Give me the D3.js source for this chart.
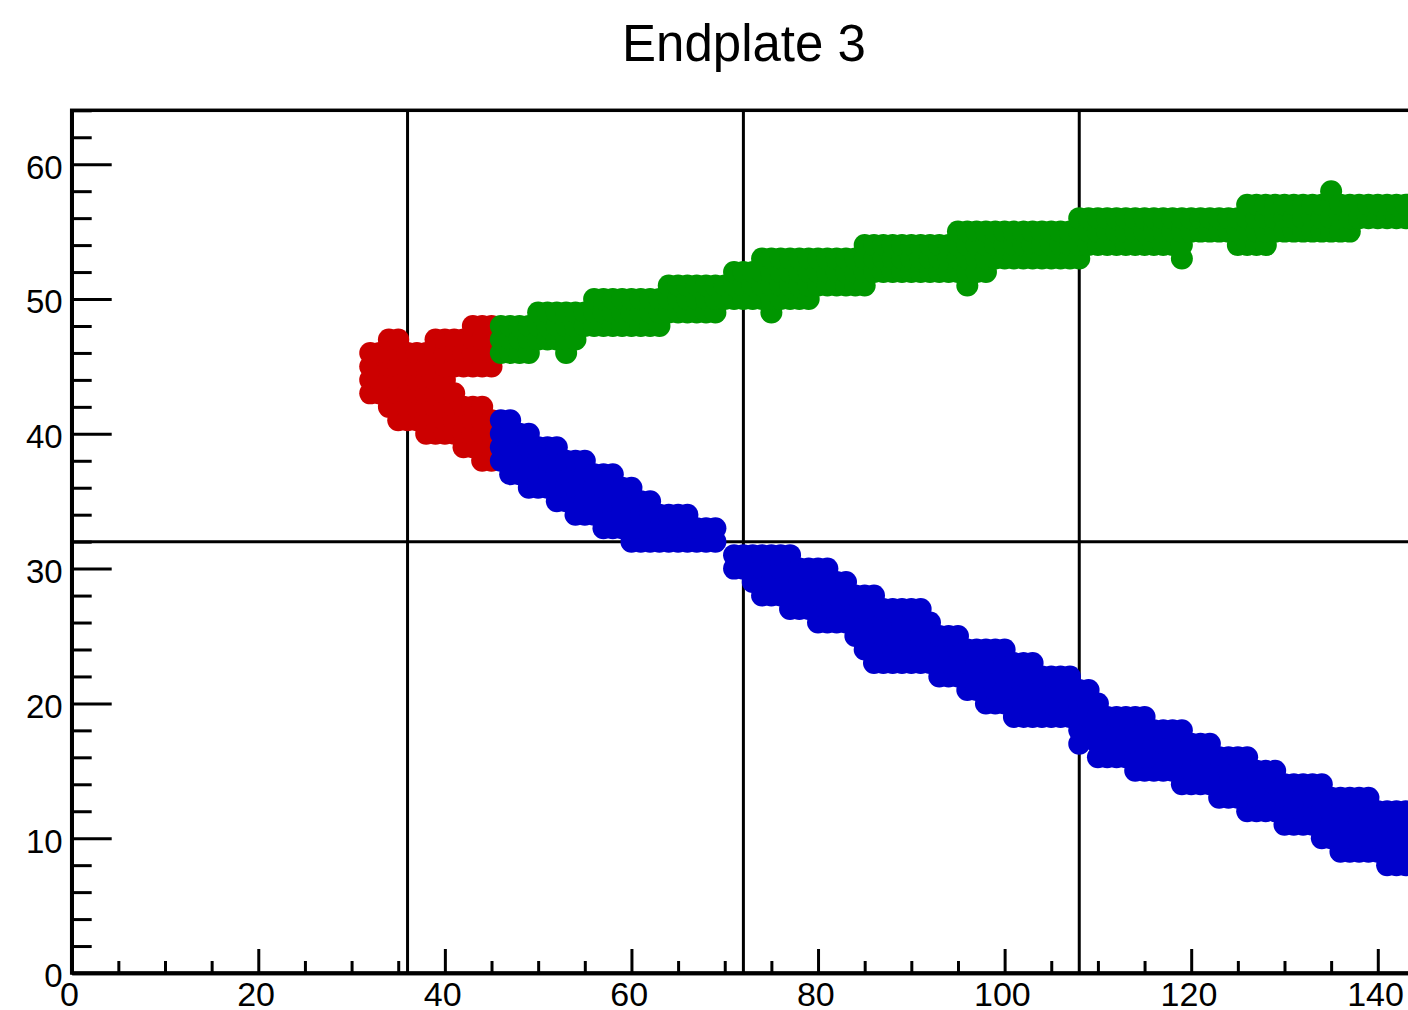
<!DOCTYPE html>
<html>
<head>
<meta charset="utf-8">
<script src="https://cdn.jsdelivr.net/npm/d3@7"></script>
<style>
  html, body { margin: 0; padding: 0; background: #fff; overflow: hidden; }
  text { font-family: "Liberation Sans", Arial, Helvetica, sans-serif; fill: #000; }
</style>
</head>
<body>
<svg id="chart" width="1408" height="1010"></svg>
<script>
// ---- data -------------------------------------------------------------
const chartTitle = "Endplate 3";
const xMajorTicks = [0, 20, 40, 60, 80, 100, 120, 140];
const yMajorTicks = [0, 10, 20, 30, 40, 50, 60];
const xSectorEdges = [36, 72, 108];
const ySectorEdges = [32];

// Hit cells, one run per column: [column, firstRow, lastRow]
const redHits = [
  [32,43,46],[33,43,46],[34,42,47],[35,41,47],[36,41,46],[37,41,46],[38,40,46],
  [39,40,47],[40,40,47],[41,40,43],[41,45,47],[42,39,42],[42,45,47],[43,39,42],
  [43,45,48],[44,38,42],[44,45,48],[45,38,41],[45,45,48]
];
const greenHits = [
  [46,46,48],[47,46,48],[48,46,48],[49,46,48],[50,47,49],[51,47,49],[52,47,49],
  [53,46,49],[54,47,49],[55,48,49],[56,48,50],[57,48,50],[58,48,50],[59,48,50],
  [60,48,50],[61,48,50],[62,48,50],[63,48,50],[64,49,51],[65,49,51],[66,49,51],
  [67,49,51],[68,49,51],[69,49,51],[70,50,51],[71,50,52],[72,50,52],[73,50,52],
  [74,50,53],[75,49,53],[76,50,53],[77,50,53],[78,50,53],[79,50,53],[80,51,53],
  [81,51,53],[82,51,53],[83,51,53],[84,51,53],[85,51,54],[86,52,54],[87,52,54],
  [88,52,54],[89,52,54],[90,52,54],[91,52,54],[92,52,54],[93,52,54],[94,52,54],
  [95,52,55],[96,51,55],[97,52,55],[98,52,55],[99,53,55],[100,53,55],[101,53,55],
  [102,53,55],[103,53,55],[104,53,55],[105,53,55],[106,53,55],[107,53,55],
  [108,53,56],[109,54,56],[110,54,56],[111,54,56],[112,54,56],[113,54,56],
  [114,54,56],[115,54,56],[116,54,56],[117,54,56],[118,54,56],[119,53,56],
  [120,55,56],[121,55,56],[122,55,56],[123,55,56],[124,55,56],[125,54,56],
  [126,54,57],[127,54,57],[128,54,57],[129,55,57],[130,55,57],[131,55,57],
  [132,55,57],[133,55,57],[134,55,57],[135,55,58],[136,55,57],[137,55,57],
  [138,56,57],[139,56,57],[140,56,57],[141,56,57],[142,56,57],[143,56,57]
];
const blueHits = [
  [46,38,41],[47,37,41],[48,37,40],[49,36,40],[50,36,39],[51,36,39],[52,35,39],
  [53,35,38],[54,34,38],[55,34,38],[56,34,37],[57,33,37],[58,33,37],[59,33,36],
  [60,32,36],[61,32,35],[62,32,35],[63,32,34],[64,32,34],[65,32,34],[66,32,34],
  [67,32,33],[68,32,33],[69,32,33],[71,30,31],[72,30,31],[73,29,31],[74,28,31],
  [75,28,31],[76,28,31],[77,27,31],[78,27,30],[79,27,30],[80,26,30],[81,26,30],
  [82,26,29],[83,26,29],[84,25,28],[85,24,28],[86,23,28],[87,23,27],[88,23,27],
  [89,23,27],[90,23,27],[91,23,27],[92,23,26],[93,22,25],[94,22,25],[95,22,25],
  [96,21,24],[97,21,24],[98,20,24],[99,20,24],[100,20,24],[101,19,23],[102,19,23],
  [103,19,23],[104,19,22],[105,19,22],[106,19,22],[107,19,22],[108,17,21],
  [109,18,21],[110,16,20],[111,16,19],[112,16,19],[113,16,19],[114,15,19],
  [115,15,19],[116,15,18],[117,15,18],[118,15,18],[119,14,18],[120,14,17],
  [121,14,17],[122,14,17],[123,13,16],[124,13,16],[125,13,16],[126,12,16],
  [127,12,15],[128,12,15],[129,12,15],[130,11,14],[131,11,14],[132,11,14],
  [133,11,14],[134,10,14],[135,10,13],[136,9,13],[137,9,13],[138,9,13],
  [139,9,13],[140,9,12],[141,8,12],[142,8,12],[143,8,12]
];

const series = [
  { name: "red",   color: "#cc0000", hits: redHits },
  { name: "green", color: "#009600", hits: greenHits },
  { name: "blue",  color: "#0000cc", hits: blueHits }
];

// ---- layout -----------------------------------------------------------
const svg = d3.select("#chart");
const frame = { left: 71.7, top: 110.3, bottom: 973, right: 1415.1 };

const x = d3.scaleLinear().domain([0, 144]).range([frame.left, frame.right]);
const y = d3.scaleLinear().domain([0, 64]).range([frame.bottom, frame.top]);

// expand each column run into its individual cells
function cellsOf(hits) {
  const cells = [];
  hits.forEach(([col, lo, hi]) => {
    for (let row = lo; row <= hi; row++) cells.push([col, row]);
  });
  return cells;
}

svg.append("defs").append("clipPath").attr("id", "frameClip")
  .append("rect")
  .attr("x", frame.left).attr("y", frame.top)
  .attr("width", frame.right - frame.left).attr("height", frame.bottom - frame.top);

// sector boundaries
const grid = svg.append("g").attr("stroke", "#000").attr("stroke-width", 3);
grid.selectAll("line.vx").data(xSectorEdges).join("line")
  .attr("x1", d => x(d)).attr("x2", d => x(d))
  .attr("y1", frame.top).attr("y2", frame.bottom);
grid.selectAll("line.hy").data(ySectorEdges).join("line")
  .attr("x1", frame.left).attr("x2", frame.right)
  .attr("y1", d => y(d)).attr("y2", d => y(d));

// hit markers
const marks = svg.append("g").attr("clip-path", "url(#frameClip)");
series.forEach(s => {
  marks.append("g").attr("fill", s.color)
    .selectAll("circle").data(cellsOf(s.hits)).join("circle")
    .attr("cx", d => x(d[0])).attr("cy", d => y(d[1])).attr("r", 11);
});

// axes
function styleAxis(g, fontSize) {
  g.select(".domain").attr("stroke-width", 3.5);
  g.selectAll(".tick line").attr("stroke-width", 3);
  g.selectAll(".tick text").attr("font-size", fontSize).style("font-family", '"Liberation Sans", Arial, sans-serif');
}

const xMinor = d3.range(5, 144, 5).filter(v => v % 20 !== 0);
const yMinor = d3.range(2, 65, 2).filter(v => v % 10 !== 0);

svg.append("g").attr("transform", `translate(0,${frame.bottom})`)
  .call(d3.axisBottom(x).tickValues(xMinor).tickSizeInner(-12).tickSizeOuter(0).tickFormat(""))
  .call(g => styleAxis(g, 34));
svg.append("g").attr("transform", `translate(0,${frame.bottom})`)
  .call(d3.axisBottom(x).tickValues(xMajorTicks).tickSizeInner(-24).tickSizeOuter(0)
        .tickPadding(9).tickFormat(d3.format("d")))
  .call(g => styleAxis(g, 34))
  .call(g => g.selectAll(".tick text").attr("dx", "-0.08em"));

svg.append("g").attr("transform", `translate(${frame.left},0)`)
  .call(d3.axisLeft(y).tickValues(yMinor).tickSizeInner(-20).tickSizeOuter(0).tickFormat(""))
  .call(g => styleAxis(g, 33));
svg.append("g").attr("transform", `translate(${frame.left},0)`)
  .call(d3.axisLeft(y).tickValues(yMajorTicks).tickSizeInner(-40).tickSizeOuter(0)
        .tickPadding(9).tickFormat(d3.format("d")))
  .call(g => styleAxis(g, 33))
  .call(g => g.selectAll(".tick text").attr("dy", "0.42em"));

// frame border
svg.append("rect")
  .attr("x", frame.left).attr("y", frame.top)
  .attr("width", frame.right - frame.left).attr("height", frame.bottom - frame.top)
  .attr("fill", "none").attr("stroke", "#000").attr("stroke-width", 3.5);

// title
svg.append("text")
  .attr("x", 744).attr("y", 61)
  .attr("text-anchor", "middle")
  .attr("font-size", 51)
  .text(chartTitle);
</script>
</body>
</html>
